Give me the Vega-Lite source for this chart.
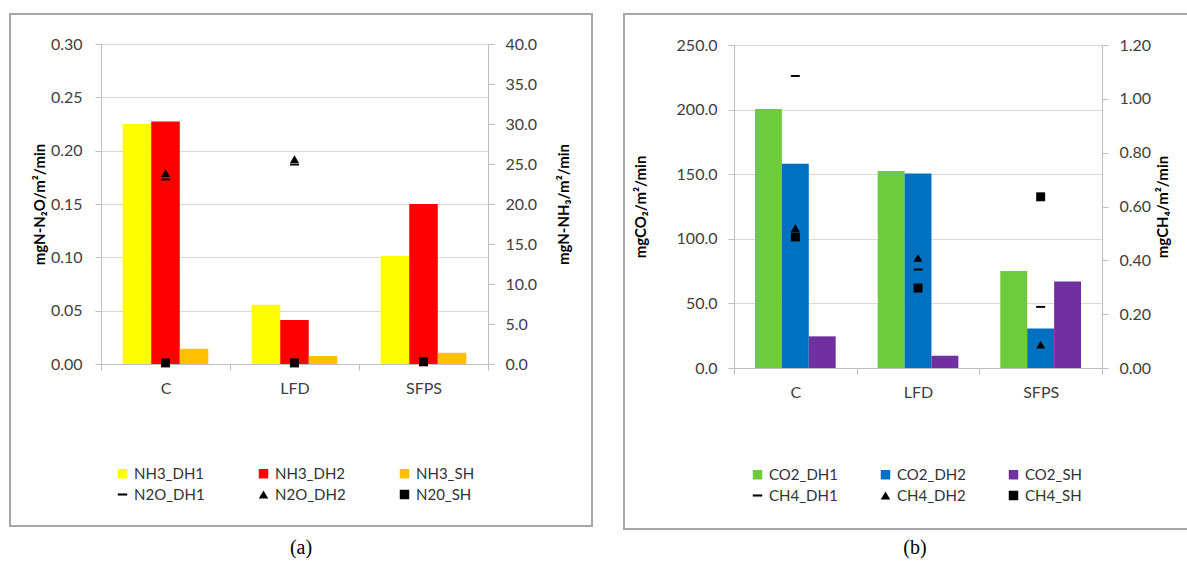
{
  "$schema": "https://vega.github.io/schema/vega-lite/v6.json",
  "padding": {"left": 9, "top": 13, "right": 0, "bottom": 0},
  "background": "white",
  "spacing": 30,
  "config": {
    "view": {"stroke": "#A6A6A6", "strokeWidth": 2},
    "font": "Lato",
    "axis": {
      "domainColor": "#BFBFBF", "tickColor": "#BFBFBF", "gridColor": "#D9D9D9",
      "labelFont": "Lato", "labelFontSize": 16, "labelColor": "#404040",
      "titleFont": "Lato", "titleFontSize": 15, "titleFontWeight": "bold", "titleColor": "#000000",
      "tickSize": 6, "labelPadding": 11
    },
    "legend": {
      "labelFont": "Lato", "labelFontSize": 15, "labelColor": "#333333",
      "symbolSize": 90, "symbolStrokeWidth": 0, "labelOffset": 4,
      "rowPadding": 5, "padding": 0, "gridAlign": "all", "direction": "horizontal"
    }
  },
  "resolve": {"scale": {"color": "independent", "shape": "independent", "xOffset": "independent"}},
  "datasets": {
    "nh3": [
      {"site": "C", "series": "NH3_DH1", "value": 30.0},
      {"site": "C", "series": "NH3_DH2", "value": 30.3},
      {"site": "C", "series": "NH3_SH", "value": 1.9},
      {"site": "LFD", "series": "NH3_DH1", "value": 7.4},
      {"site": "LFD", "series": "NH3_DH2", "value": 5.5},
      {"site": "LFD", "series": "NH3_SH", "value": 1.0},
      {"site": "SFPS", "series": "NH3_DH1", "value": 13.5},
      {"site": "SFPS", "series": "NH3_DH2", "value": 20.0},
      {"site": "SFPS", "series": "NH3_SH", "value": 1.4}
    ],
    "n2o": [
      {"site": "C", "series": "N2O_DH1", "value": 0.173},
      {"site": "C", "series": "N2O_DH2", "value": 0.179},
      {"site": "C", "series": "N20_SH", "value": 0.001},
      {"site": "LFD", "series": "N2O_DH1", "value": 0.187},
      {"site": "LFD", "series": "N2O_DH2", "value": 0.192},
      {"site": "LFD", "series": "N20_SH", "value": 0.001},
      {"site": "SFPS", "series": "N2O_DH1", "value": 0.002},
      {"site": "SFPS", "series": "N2O_DH2", "value": 0.002},
      {"site": "SFPS", "series": "N20_SH", "value": 0.002}
    ],
    "co2": [
      {"site": "C", "series": "CO2_DH1", "value": 200.5},
      {"site": "C", "series": "CO2_DH2", "value": 158.0},
      {"site": "C", "series": "CO2_SH", "value": 24.5},
      {"site": "LFD", "series": "CO2_DH1", "value": 152.5},
      {"site": "LFD", "series": "CO2_DH2", "value": 150.5},
      {"site": "LFD", "series": "CO2_SH", "value": 9.5},
      {"site": "SFPS", "series": "CO2_DH1", "value": 75.0},
      {"site": "SFPS", "series": "CO2_DH2", "value": 30.5},
      {"site": "SFPS", "series": "CO2_SH", "value": 67.0}
    ],
    "ch4": [
      {"site": "C", "series": "CH4_DH1", "value": 1.085},
      {"site": "C", "series": "CH4_DH2", "value": 0.52},
      {"site": "C", "series": "CH4_SH", "value": 0.487},
      {"site": "LFD", "series": "CH4_DH1", "value": 0.366},
      {"site": "LFD", "series": "CH4_DH2", "value": 0.409},
      {"site": "LFD", "series": "CH4_SH", "value": 0.297},
      {"site": "SFPS", "series": "CH4_DH1", "value": 0.227},
      {"site": "SFPS", "series": "CH4_DH2", "value": 0.087},
      {"site": "SFPS", "series": "CH4_SH", "value": 0.636}
    ]
  },
  "hconcat": [
    {
      "width": 582,
      "height": 512,
      "title": {"text": "(a)", "orient": "bottom", "font": "Liberation Serif", "fontSize": 20, "fontWeight": "normal", "offset": 12, "anchor": "middle", "color": "#000000"},
      "layer": [
        {
          "data": {"name": "nh3"},
          "mark": {"type": "bar"},
          "encoding": {
            "x": {"field": "site", "type": "nominal", "sort": ["C", "LFD", "SFPS"],
              "scale": {"range": [91, 478], "paddingInner": 0, "paddingOuter": 0},
              "axis": {"orient": "bottom", "offset": -162, "title": null, "labelAngle": 0, "tickBand": "extent", "grid": false, "labelPadding": 10}},
            "xOffset": {"field": "series", "type": "nominal", "sort": ["NH3_DH1", "NH3_DH2", "NH3_SH"],
              "scale": {"paddingOuter": 0.76, "paddingInner": 0}},
            "y": {"field": "value", "type": "quantitative",
              "scale": {"domain": [0, 40], "range": [350, 30], "nice": false},
              "axis": {"orient": "right", "offset": -104, "values": [0, 5, 10, 15, 20, 25, 30, 35, 40], "format": ".1f", "grid": false,
                "title": "mgN-NH₃/m²/min", "titleAngle": 270, "titlePadding": 35}},
            "color": {"field": "series", "type": "nominal",
              "scale": {"domain": ["NH3_DH1", "NH3_DH2", "NH3_SH", "N2O_DH1", "N2O_DH2", "N20_SH"],
                "range": ["#FFFF00", "#FF0000", "#FFC000", "#000000", "#000000", "#000000"]},
              "legend": {"title": null, "orient": "none", "legendX": 105, "legendY": 452, "columns": 3, "columnPadding": 51, "direction": "horizontal"}}
          }
        },
        {
          "data": {"name": "n2o"},
          "mark": {"type": "point", "filled": true, "opacity": 1, "size": 80},
          "encoding": {
            "x": {"field": "site", "type": "nominal", "sort": ["C", "LFD", "SFPS"]},
            "y": {"field": "value", "type": "quantitative",
              "scale": {"domain": [0, 0.3], "range": [350, 30], "nice": false},
              "axis": {"orient": "left", "offset": -91, "values": [0, 0.05, 0.1, 0.15, 0.2, 0.25, 0.3], "format": ".2f", "grid": true,
                "title": "mgN-N₂O/m²/min", "titlePadding": 3, "labelPadding": 13}},
            "color": {"field": "series", "type": "nominal",
              "legend": {"title": null, "orient": "none", "legendX": 105, "legendY": 452, "columns": 3, "columnPadding": 51, "direction": "horizontal"}},
            "shape": {"field": "series", "type": "nominal",
              "scale": {"domain": ["NH3_DH1", "NH3_DH2", "NH3_SH", "N2O_DH1", "N2O_DH2", "N20_SH"],
                "range": ["square", "square", "square", "M-1,-0.22H1V0.22H-1Z", "triangle-up", "square"]},
              "legend": {"title": null, "orient": "none", "legendX": 105, "legendY": 452, "columns": 3, "columnPadding": 51, "direction": "horizontal"}}
          }
        }
      ],
      "resolve": {"scale": {"y": "independent"}}
    },
    {
      "width": 566,
      "height": 515,
      "title": {"text": "(b)", "orient": "bottom", "font": "Liberation Serif", "fontSize": 20, "fontWeight": "normal", "offset": 9, "anchor": "middle", "dx": 8, "color": "#000000"},
      "layer": [
        {
          "data": {"name": "co2"},
          "mark": {"type": "bar"},
          "encoding": {
            "x": {"field": "site", "type": "nominal", "sort": ["C", "LFD", "SFPS"],
              "scale": {"range": [110, 478], "paddingInner": 0, "paddingOuter": 0},
              "axis": {"orient": "bottom", "offset": -161, "title": null, "labelAngle": 0, "tickBand": "extent", "grid": false, "labelPadding": 10}},
            "xOffset": {"field": "series", "type": "nominal", "sort": ["CO2_DH1", "CO2_DH2", "CO2_SH"],
              "scale": {"paddingOuter": 0.78, "paddingInner": 0}},
            "y": {"field": "value", "type": "quantitative",
              "scale": {"domain": [0, 250], "range": [354, 31], "nice": false},
              "axis": {"orient": "left", "offset": -110, "values": [0, 50, 100, 150, 200, 250], "format": ".1f", "grid": true,
                "title": "mgCO₂/m²/min", "titlePadding": 28}},
            "color": {"field": "series", "type": "nominal",
              "scale": {"domain": ["CO2_DH1", "CO2_DH2", "CO2_SH", "CH4_DH1", "CH4_DH2", "CH4_SH"],
                "range": ["#6DCB3C", "#0070C0", "#7030A0", "#000000", "#000000", "#000000"]},
              "legend": {"title": null, "orient": "none", "legendX": 126, "legendY": 453, "columns": 3, "columnPadding": 40, "direction": "horizontal"}}
          }
        },
        {
          "data": {"name": "ch4"},
          "mark": {"type": "point", "filled": true, "opacity": 1, "size": 80},
          "encoding": {
            "x": {"field": "site", "type": "nominal", "sort": ["C", "LFD", "SFPS"]},
            "y": {"field": "value", "type": "quantitative",
              "scale": {"domain": [0, 1.2], "range": [354, 31], "nice": false},
              "axis": {"orient": "right", "offset": -88, "values": [0, 0.2, 0.4, 0.6, 0.8, 1.0, 1.2], "format": ".2f", "grid": false,
                "title": "mgCH₄/m²/min", "titleAngle": 270, "titlePadding": 20}},
            "color": {"field": "series", "type": "nominal",
              "legend": {"title": null, "orient": "none", "legendX": 126, "legendY": 453, "columns": 3, "columnPadding": 40, "direction": "horizontal"}},
            "shape": {"field": "series", "type": "nominal",
              "scale": {"domain": ["CO2_DH1", "CO2_DH2", "CO2_SH", "CH4_DH1", "CH4_DH2", "CH4_SH"],
                "range": ["square", "square", "square", "M-1,-0.22H1V0.22H-1Z", "triangle-up", "square"]},
              "legend": {"title": null, "orient": "none", "legendX": 126, "legendY": 453, "columns": 3, "columnPadding": 40, "direction": "horizontal"}}
          }
        }
      ],
      "resolve": {"scale": {"y": "independent"}}
    }
  ]
}
